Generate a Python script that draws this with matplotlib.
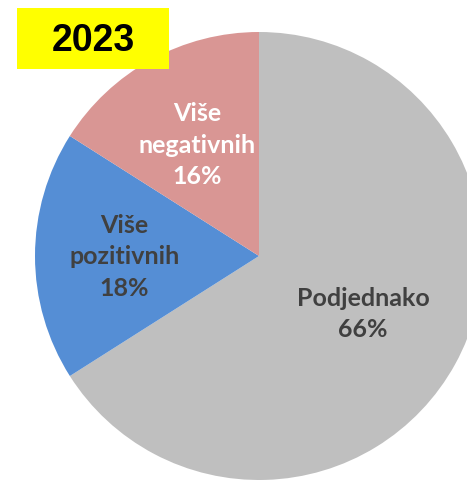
import numpy as np
import matplotlib
matplotlib.use("Agg")
import matplotlib.pyplot as plt
from matplotlib.patches import Rectangle

# Podaci
labels = ["Podjednako", "Više\npozitivnih", "Više\nnegativnih"]
values = [66, 18, 16]
colors = ["#BFBFBF", "#558ED5", "#D99694"]
text_colors = ["#404040", "#404040", "#FFFFFF"]
label_dist = [0.53, 0.60, 0.57]
year = "2023"

W, H = 467, 481
fig = plt.figure(figsize=(W / 100, H / 100), dpi=100)
ax = fig.add_axes([0, 0, 1, 1])

# pie centre at pixel (259, 257), radius 224 px
cx, cy, r = 259, 257, 224
wedges, _ = ax.pie(values, colors=colors, startangle=90, counterclock=False,
                   radius=1, wedgeprops=dict(linewidth=0))

for w, lab, v, tc, d in zip(wedges, labels, values, text_colors, label_dist):
    ang = np.deg2rad((w.theta1 + w.theta2) / 2)
    ax.text(d * np.cos(ang), d * np.sin(ang), f"{lab}\n{v}%",
            ha="center", va="center", color=tc, fontsize=18,
            fontweight="bold", family="Lato", linespacing=1.45)

ax.set_xlim(-cx / r, (W - cx) / r)
ax.set_ylim(-(H - cy) / r, cy / r)
ax.set_aspect("auto")
ax.axis("off")

# Godina u žutom okviru
fig.patches.append(Rectangle((17 / W, 1 - 70 / H), 152 / W, 61 / H,
                             transform=fig.transFigure, facecolor="#FFFF00",
                             edgecolor="none", zorder=2))
fig.text(93 / W, 1 - 41 / H, year, ha="center", va="center", fontsize=27,
         fontweight="bold", family="Liberation Sans", color="black", zorder=3)

fig.savefig("out.png", dpi=100)
